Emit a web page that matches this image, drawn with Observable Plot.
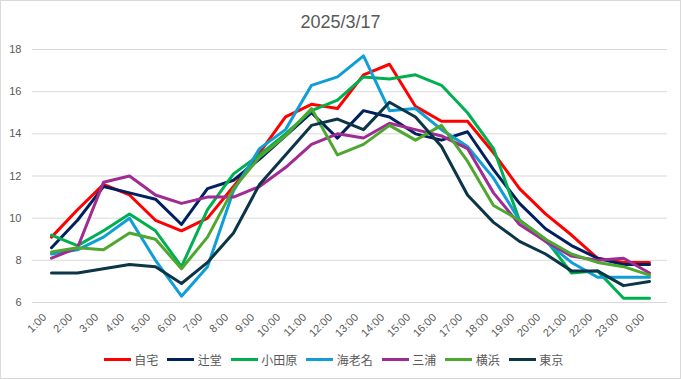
<!DOCTYPE html>
<html>
<head>
<meta charset="utf-8">
<script src="https://cdn.jsdelivr.net/npm/d3@7"></script>
<script src="https://cdn.jsdelivr.net/npm/@observablehq/plot@0.6"></script>
<style>
  html, body { margin: 0; padding: 0; background: #fff; }
  #chart { position: relative; width: 681px; height: 379px; background: #fff; overflow: hidden;
    font-family: "Liberation Sans", Arial, "Noto Sans CJK JP", sans-serif; color: #595959; }
  #frame { position: absolute; left: 0; top: 0; width: 681px; height: 379px; box-sizing: border-box;
    border: 1px solid #D9D9D9; pointer-events: none; }
  #title { position: absolute; left: 0; top: 13px; width: 681px; text-align: center;
    font-size: 18px; line-height: 18px; color: #595959; }
  #plot { position: absolute; left: 0; top: 0; }
  #legend { position: absolute; left: -7px; top: 351px; width: 681px; height: 16px; display: flex;
    justify-content: center; align-items: center; gap: 9px;
    font-family: "Noto Sans CJK JP", sans-serif; font-size: 12px; color: #595959; }
  .item { display: flex; align-items: center; gap: 3.5px; }
  .sw { width: 27px; height: 3px; }
</style>
</head>
<body>
<div id="chart">
  <div id="plot"></div>
  <div id="title">2025/3/17</div>
  <div id="legend"></div>
  <div id="frame"></div>
</div>
<script>
const hours = ["1:00","2:00","3:00","4:00","5:00","6:00","7:00","8:00","9:00","10:00","11:00","12:00",
  "13:00","14:00","15:00","16:00","17:00","18:00","19:00","20:00","21:00","22:00","23:00","0:00"];
const seriesNames = ["自宅","辻堂","小田原","海老名","三浦","横浜","東京"];
const seriesColors = ["#FF0000","#002060","#00B050","#0F9ED5","#A02B93","#4EA72E","#0C3547"];
const yTicks = [6, 8, 10, 12, 14, 16, 18];

const jitaku   = [9.1,10.4,11.6,11.1,9.9,9.4,10.0,11.5,13.1,14.8,15.4,15.2,16.8,17.3,15.3,14.6,14.6,13.1,11.4,10.2,9.2,8.1,7.9,7.9];
const tsujido  = [8.6,9.9,11.5,11.2,10.9,9.7,11.4,11.8,12.8,13.9,15.0,13.8,15.1,14.8,14.0,13.7,14.1,12.3,10.7,9.5,8.7,8.1,7.8,7.8];
const odawara  = [9.2,8.7,9.4,10.2,9.4,7.7,10.4,12.1,13.0,14.0,15.1,15.6,16.7,16.6,16.8,16.3,15.0,13.3,9.9,9.0,7.4,7.5,6.2,6.2];
const ebina    = [8.3,8.5,9.1,10.0,8.0,6.3,7.7,11.3,13.3,14.2,16.3,16.7,17.7,15.1,15.2,14.2,13.4,11.9,9.9,8.9,7.9,7.2,7.2,7.2];
const miura    = [8.1,8.6,11.7,12.0,11.1,10.7,11.0,11.0,11.5,12.4,13.5,14.0,13.8,14.5,14.2,13.9,13.3,11.2,9.7,8.9,8.2,8.0,8.1,7.4];
const yokohama = [8.4,8.6,8.5,9.3,9.0,7.6,9.1,11.4,12.9,13.9,15.2,13.0,13.5,14.4,13.7,14.4,12.7,10.6,9.9,9.0,8.3,7.9,7.7,7.3];
const tokyo    = [7.4,7.4,7.6,7.8,7.7,6.9,7.9,9.3,11.6,13.0,14.4,14.7,14.2,15.5,14.8,13.4,11.1,9.8,8.9,8.3,7.5,7.5,6.8,7.0];

const seriesValues = [jitaku, tsujido, odawara, ebina, miura, yokohama, tokyo];
const data = [];
seriesNames.forEach((name, i) => {
  seriesValues[i].forEach((v, j) => data.push({series: name, hour: hours[j], value: v}));
});

const plot = Plot.plot({
  width: 681,
  height: 340,
  marginTop: 49,
  marginBottom: 38,
  marginLeft: 32,
  marginRight: 14,
  style: {fontFamily: "'Liberation Sans', Arial, sans-serif", fontSize: "11px", color: "#595959", background: "transparent"},
  x: {type: "point", domain: hours, padding: 0.5, label: null},
  y: {domain: [6, 18], label: null},
  color: {domain: seriesNames, range: seriesColors},
  marks: [
    Plot.ruleY(yTicks, {stroke: "#D9D9D9", strokeWidth: 1}),
    Plot.axisY(yTicks, {tickSize: 0, tickPadding: 11, label: null, fill: "#595959"}),
    Plot.axisX({tickSize: 0, tickPadding: 8, tickRotate: -45, dx: -7, dy: 5, label: null, fill: "#595959"}),
    Plot.line(data, {x: "hour", y: "value", z: "series", stroke: "series", strokeWidth: 3, strokeLinejoin: "round"})
  ]
});
document.getElementById("plot").appendChild(plot);

const legend = document.getElementById("legend");
seriesNames.forEach((name, i) => {
  const item = document.createElement("div");
  item.className = "item";
  const sw = document.createElement("div");
  sw.className = "sw";
  sw.style.background = seriesColors[i];
  const label = document.createElement("span");
  label.textContent = name;
  item.appendChild(sw);
  item.appendChild(label);
  legend.appendChild(item);
});
</script>
</body>
</html>
